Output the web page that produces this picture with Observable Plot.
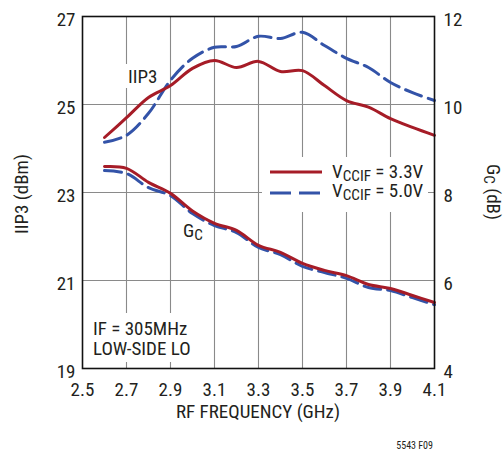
<!DOCTYPE html>
<html>
<head>
<meta charset="utf-8">
<script src="https://cdn.jsdelivr.net/npm/d3@7"></script>
<script src="https://cdn.jsdelivr.net/npm/@observablehq/plot@0.6"></script>
<style>
  body { margin: 0; background: #fff; }
  #wrap { position: relative; width: 504px; height: 452px; overflow: hidden;
          font-family: "Liberation Sans Narrow", "Arial Narrow", "Roboto Condensed", sans-serif; color: #231f20; }
  #wrap svg { position: absolute; left: 0; top: 0; }
  .ov { position: absolute; font-size: 19px; line-height: 16px; white-space: nowrap; }
  .sub { font-size: 0.8em; position: relative; top: 0.22em; line-height: 0; }
  .box { position: absolute; background: #fff; }
</style>
</head>
<body>
<div id="wrap"></div>
<script>
// ---- data ----
const freq      = [2.6, 2.7, 2.8, 2.9, 3.0, 3.1, 3.2, 3.3, 3.4, 3.5, 3.6, 3.7, 3.8, 3.9, 4.0, 4.1];
const iip3_33V  = [24.25, 24.70, 25.16, 25.43, 25.82, 26.00, 25.84, 25.98, 25.75, 25.77, 25.43, 25.09, 24.94, 24.68, 24.48, 24.30];
const iip3_50V  = [24.14, 24.30, 24.80, 25.55, 26.05, 26.30, 26.32, 26.55, 26.50, 26.64, 26.34, 26.05, 25.84, 25.50, 25.27, 25.09];
const gc_33V    = [8.59, 8.55, 8.23, 7.98, 7.58, 7.30, 7.14, 6.80, 6.64, 6.39, 6.23, 6.11, 5.91, 5.82, 5.66, 5.50];
const gc_50V    = [8.50, 8.43, 8.11, 7.93, 7.52, 7.25, 7.09, 6.75, 6.59, 6.32, 6.18, 6.05, 5.84, 5.77, 5.61, 5.45];
const seriesLabels = ["3.3V", "5.0V"];
const xTicks    = [2.5, 2.7, 2.9, 3.1, 3.3, 3.5, 3.7, 3.9, 4.1];
const xGrid     = [2.7, 2.9, 3.1, 3.3, 3.5, 3.7, 3.9];
const iip3Ticks = [19, 21, 23, 25, 27];
const gcTicks   = [4, 6, 8, 10, 12];
const iip3Grid  = [21, 23, 25];
const GC_OFFSET = 15; // Gc axis (4..12) maps onto IIP3 axis (19..27)

const RED = "#a61c27", BLUE = "#3353a8", INK = "#231f20";
const FONT = '"Liberation Sans Narrow", "Arial Narrow", "Roboto Condensed", sans-serif';

const rows = (ys, off) => freq.map((f, i) => ({ f, v: ys[i] + off }));

const chart = Plot.plot({
  width: 504, height: 452,
  marginTop: 16, marginLeft: 82, marginRight: 70, marginBottom: 84,
  style: { fontFamily: FONT, fontSize: "19px", color: INK, background: "transparent", overflow: "visible" },
  x: { domain: [2.5, 4.1] },
  y: { domain: [19, 27] },
  marks: [
    Plot.gridX(xGrid, { stroke: "#8a8a8a", strokeOpacity: 1, strokeWidth: 1.1 }),
    Plot.gridY(iip3Grid, { stroke: "#8a8a8a", strokeOpacity: 1, strokeWidth: 1.1 }),
    Plot.axisX(xTicks, { tickSize: 0, tickPadding: 14, tickFormat: d => d.toFixed(1), label: null, fill: INK }),
    Plot.axisY(iip3Ticks, { anchor: "left", tickSize: 0, tickPadding: 7, dy: 3, label: null, fill: INK }),
    Plot.axisY(iip3Ticks, { anchor: "right", tickSize: 0, tickPadding: 9, dy: 3, label: null, fill: INK,
                            tickFormat: d => String(gcTicks[iip3Ticks.indexOf(d)]) }),
    Plot.line(rows(gc_50V, GC_OFFSET), { x: "f", y: "v", curve: "catmull-rom", stroke: BLUE, strokeWidth: 3, strokeDasharray: "17,7" }),
    Plot.line(rows(gc_33V, GC_OFFSET), { x: "f", y: "v", curve: "catmull-rom", stroke: RED, strokeWidth: 3 }),
    Plot.line(rows(iip3_50V, 0), { x: "f", y: "v", curve: "catmull-rom", stroke: BLUE, strokeWidth: 3, strokeDasharray: "17,7" }),
    Plot.line(rows(iip3_33V, 0), { x: "f", y: "v", curve: "catmull-rom", stroke: RED, strokeWidth: 3 }),
    Plot.frame({ stroke: "#111", strokeWidth: 1.6 })
  ]
});

const wrap = document.getElementById("wrap");
wrap.appendChild(chart);

function box(l, t, w, h) {
  const d = document.createElement("div");
  d.className = "box";
  Object.assign(d.style, { left: l + "px", top: t + "px", width: w + "px", height: h + "px" });
  wrap.appendChild(d);
}
function ov(html, style) {
  const d = document.createElement("div");
  d.className = "ov";
  d.innerHTML = html;
  Object.assign(d.style, style);
  wrap.appendChild(d);
  return d;
}
function centered(html, cx, cy, rot, extra) {
  return ov(html, Object.assign({ left: cx + "px", top: cy + "px",
    transform: `translate(-50%,-50%) rotate(${rot}deg)` }, extra || {}));
}

// white backgrounds behind annotations (interrupt the grid like the original)
box(124, 64, 36, 24);      // IIP3 label
box(88, 313, 112, 49);     // IF note
box(262, 157, 166, 55);    // legend

// curve labels
ov("IIP3", { left: "128px", top: "68.5px" });
ov('G<span class="sub">C</span>', { left: "183px", top: "222.5px" });

// note
ov("IF = 305MHz", { left: "93px", top: "320.5px" });
ov("LOW-SIDE LO", { left: "93px", top: "340.5px" });

// legend
const legendColors = [RED, BLUE];
const legendDash = ["none", "21,8"];
seriesLabels.forEach((lab, i) => {
  const y = 172 + i * 21;
  const s = document.createElementNS("http://www.w3.org/2000/svg", "svg");
  s.setAttribute("width", 54); s.setAttribute("height", 8);
  Object.assign(s.style, { position: "absolute", left: "270px", top: (y - 4) + "px" });
  const ln = document.createElementNS("http://www.w3.org/2000/svg", "line");
  ln.setAttribute("x1", 0); ln.setAttribute("x2", 52); ln.setAttribute("y1", 4); ln.setAttribute("y2", 4);
  ln.setAttribute("stroke", legendColors[i]); ln.setAttribute("stroke-width", 3);
  if (legendDash[i] !== "none") ln.setAttribute("stroke-dasharray", legendDash[i]);
  s.appendChild(ln);
  wrap.appendChild(s);
  ov('V<span class="sub">CCIF</span> = ' + lab, { left: "332px", top: (163.5 + i * 19) + "px" });
});

// axis titles
centered("IIP3 (dBm)", 22, 194, -90);
centered('G<span class="sub">C</span> (dB)', 493, 192, 90);
centered("RF FREQUENCY (GHz)", 258, 412, 0);

// footer
ov("5543 F09", { right: (504 - 433) + "px", top: "441px", fontSize: "10px", lineHeight: "10px" });
</script>
</body>
</html>
